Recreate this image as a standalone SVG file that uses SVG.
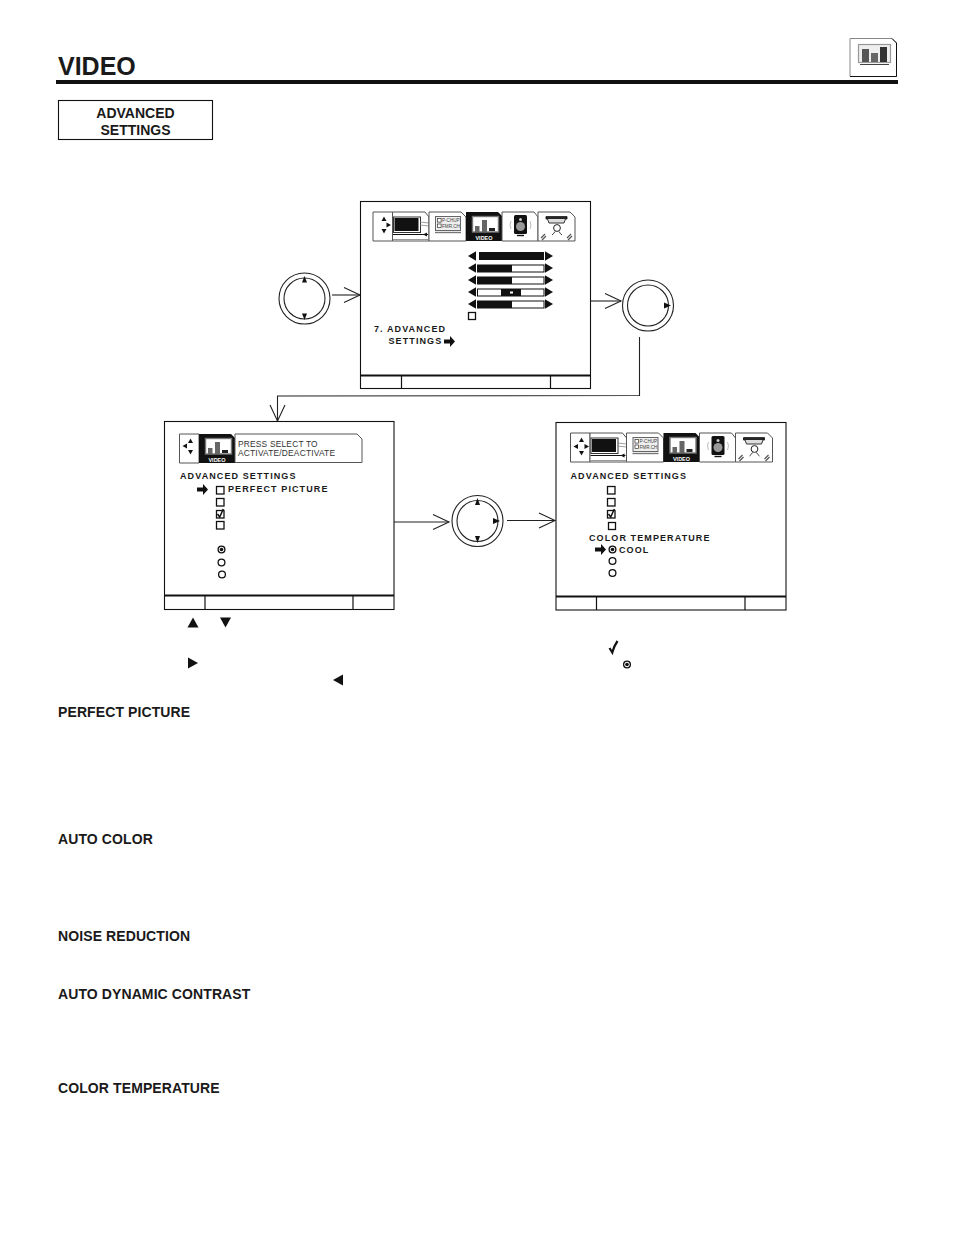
<svg xmlns="http://www.w3.org/2000/svg" width="954" height="1235" viewBox="0 0 954 1235">
<style>
text{font-family:"Liberation Sans",Arial,sans-serif;fill:#1a1a1a}
.h{font-weight:700;font-size:14px;letter-spacing:.1px}
.m{font-weight:700;font-size:9px;letter-spacing:1.1px}
.p{font-size:8.4px;letter-spacing:.2px;fill:#333}
.v{font-weight:700;font-size:5.500px;fill:#fff;text-anchor:middle}
.t{font-size:4.600px;fill:#444}
.box{fill:#fff;stroke:#111;stroke-width:1.100}
.div{fill:none;stroke:#111;stroke-width:1.200}
.bar{stroke:#111;stroke-width:1.800;fill:none}
.tab{fill:#fff;stroke:#555;stroke-width:1}
.cb{fill:#fff;stroke:#111;stroke-width:1.300}
.rd{fill:#fff;stroke:#111;stroke-width:1.300}
.k{fill:#111}
.con{fill:none;stroke:#222;stroke-width:1.100}
.ring{fill:none;stroke:#222;stroke-width:1.100}
</style>
<defs>
<marker id="open" markerUnits="userSpaceOnUse" markerWidth="20" markerHeight="20" refX="17" refY="9" orient="auto"><path d="M1,1.500 L17,9 L1,16.500" fill="none" stroke="#222" stroke-width="1.100"/></marker>
<path id="fat" d="M0,-2 H6 V-5.500 L11,0 L6,5.500 V2 H0Z" class="k"/>
<g id="arrowBox"><path d="M0,0H19.500V29H0Z" class="tab"/></g>
<g id="tv"><path d="M19.500,29V0H52L56,5V29Z" class="tab"/><rect x="20.500" y="5" width="27" height="15.500" fill="#fff" stroke="#333"/><rect x="21.500" y="6" width="24" height="13" class="k"/><path d="M47,10L56,11M47,13L56,14" stroke="#888" stroke-width=".8"/><path d="M20,22.500H55" stroke="#111"/><path d="M20,27.500H56" stroke="#999"/><path d="M54,20.500V24.500L50,22.500Z" class="k"/></g>
<g id="pip"><path d="M56,29V0H88L93,5V29Z" class="tab"/><rect x="62.500" y="4.500" width="25" height="14" fill="#eee" stroke="#666"/><rect x="64.500" y="6.500" width="3.600" height="3.600" fill="#fff" stroke="#333" stroke-width=".7"/><rect x="64.500" y="12" width="3.600" height="3.600" fill="#fff" stroke="#333" stroke-width=".7"/><text class="t" x="69" y="10.300">P-CHUP</text><text class="t" x="69" y="16">FMR.CH</text><path d="M62,20.500H88" stroke="#777" stroke-width="1.400"/></g>
<g id="video"><rect x="93" y="0" width="36" height="29" class="k"/><path d="M125,0L129,4V0Z" fill="#fff"/><rect x="99.500" y="4.500" width="26" height="15.500" fill="#fff" stroke="#777" stroke-width="1.400"/><rect x="102" y="14" width="4.500" height="6" fill="#666"/><rect x="109" y="8" width="5" height="12" fill="#666"/><rect x="116" y="16" width="6" height="3" fill="#222"/><text class="v" x="111" y="27.500">VIDEO</text></g>
<g id="speaker"><path d="M129,29V0H161L165,5V29Z" class="tab"/><rect x="141" y="3" width="13" height="19" rx="1.500" class="k"/><circle cx="147.500" cy="14.500" r="4.500" fill="#999"/><circle cx="147.500" cy="7.500" r="1.500" fill="#ccc"/><path d="M144,23.500H151" stroke="#111" stroke-width="1.400"/><path d="M138,9Q136,13 138,17M157,9Q159,13 157,17" fill="none" stroke="#bbb"/></g>
<g id="person"><path d="M165,29V0H197L202,5V29Z" class="tab"/><path d="M173,4.500H194V7H192.500L191,11H176L174.500,7H173Z" fill="#ddd" stroke="#333"/><path d="M173,6H194" stroke="#111" stroke-width="1.800"/><circle cx="184" cy="16" r="3.400" fill="#fff" stroke="#222"/><path d="M179,23Q181,21.500 182,19.500M189,23Q187,21.500 186,19.500" fill="none" stroke="#222" stroke-width=".9"/><path d="M168,26L172,22M169,28L173,24M195,28L199,24M194,26L198,22" stroke="#555" stroke-width="1.200"/></g>
<path id="up" d="M0,-2.500L2.500,2H-2.500Z" class="k"/>
<path id="dn" d="M0,2.500L2.500,-2H-2.500Z" class="k"/>
<path id="lt" d="M-2.500,0L2,-2.500V2.500Z" class="k"/>
<path id="rt" d="M2.500,0L-2,-2.500V2.500Z" class="k"/>
<path id="arL" d="M-4,0L4,-4.800V4.800Z" class="k"/>
<path id="arR" d="M4,0L-4,-4.800V4.800Z" class="k"/>
<g id="check"><rect x="0" y="0" width="7.500" height="7.500" class="cb"/><path d="M1,3.500L3.200,6.500L6.800,-1.500" fill="none" stroke="#111" stroke-width="1.500"/></g>
<g id="rdOn"><circle r="3.400" class="rd"/><circle r="1.800" class="k"/></g>
</defs>

<g id="header">
<text x="58" y="75" style="font-size:25px;font-weight:700">VIDEO</text>
<rect x="56" y="80" width="842" height="4" class="k"/>
</g>
<g id="page-icon">
<path d="M850,38.500H892L896.500,43V76.500H850Z" fill="#fff" stroke="#888"/>
<path d="M892,38.500L896.500,43V76.500H850" fill="none" stroke="#111"/>
<rect x="858.500" y="44.500" width="32" height="18" fill="#eee" stroke="#999" stroke-width="1.200"/>
<rect x="862" y="49" width="7" height="13" fill="#555"/><rect x="871" y="53" width="7" height="9" fill="#666"/><rect x="880" y="47" width="7" height="15" fill="#333"/>
<path d="M860,64.500H889" stroke="#444"/>
</g>
<g id="title-box">
<rect x="58.500" y="100.500" width="154" height="39" class="box"/>
<text x="135.500" y="118" style="font-weight:700;font-size:14px" text-anchor="middle">ADVANCED</text>
<text x="135.500" y="135" style="font-weight:700;font-size:14px" text-anchor="middle">SETTINGS</text>
</g>

<g id="connectors">
<path class="con" marker-end="url(#open)" d="M332,295H360"/>
<path class="con" marker-end="url(#open)" d="M591,301H621"/>
<path class="con" marker-end="url(#open)" d="M639.500,337V395.500L277.500,396V421"/>
<path class="con" marker-end="url(#open)" d="M394,522H449"/>
<path class="con" marker-end="url(#open)" d="M507,520.500H555"/>
</g>

<g id="dial-left">
<circle cx="304.500" cy="298.500" r="25.500" class="ring"/><circle cx="304.500" cy="298.500" r="20.500" class="ring"/>
<path d="M304.500,276L302,282.500H307Z" class="k"/><path d="M304.500,320L302,313.500H307Z" class="k"/>
</g>
<g id="dial-right">
<circle cx="648" cy="305.500" r="25.500" class="ring"/><circle cx="648" cy="305.500" r="20.500" class="ring"/>
<path d="M671,305.500L664,302.500V308.500Z" class="k"/>
</g>
<g id="dial-middle">
<circle cx="477.500" cy="521" r="25.500" class="ring"/><circle cx="477.500" cy="521" r="20.500" class="ring"/>
<path d="M477.500,498L475,505H480Z" class="k"/><path d="M477.500,543L475,536H480Z" class="k"/><path d="M500,521L493,518V524Z" class="k"/>
</g>

<g id="screen-main">
<rect x="360.500" y="201.500" width="230" height="187" class="box"/>
<path class="bar" d="M360.500,375.500H590.500"/><path class="div" d="M401.500,375.500V388.500M550.500,375.500V388.500"/>
<g transform="translate(373,212)">
<use href="#arrowBox"/><use href="#up" x="11" y="7"/><use href="#dn" x="11" y="19"/><use href="#rt" x="15.500" y="13"/>
<use href="#tv"/><use href="#pip"/><use href="#video"/><use href="#speaker"/><use href="#person"/>
</g>
<g>
<use href="#arL" x="472" y="256"/><use href="#arR" x="549" y="256"/><rect x="479" y="252" width="65" height="8" class="k"/>
<use href="#arL" x="472" y="268"/><use href="#arR" x="549" y="268"/><rect x="477.500" y="265" width="66.500" height="7" fill="#fff" stroke="#111"/><rect x="477.500" y="265" width="34.500" height="7" class="k"/>
<use href="#arL" x="472" y="280"/><use href="#arR" x="549" y="280"/><rect x="477.500" y="277" width="66.500" height="7" fill="#fff" stroke="#111"/><rect x="477.500" y="277" width="34.500" height="7" class="k"/>
<use href="#arL" x="472" y="292"/><use href="#arR" x="549" y="292"/><rect x="477.500" y="289" width="66.500" height="7" fill="#fff" stroke="#111"/><rect x="501" y="289" width="20" height="7" class="k"/><rect x="510" y="291.500" width="3" height="2" fill="#fff"/>
<use href="#arL" x="472" y="304"/><use href="#arR" x="549" y="304"/><rect x="477.500" y="301" width="66.500" height="7" fill="#fff" stroke="#111"/><rect x="477.500" y="301" width="34.500" height="7" class="k"/>
<rect x="468.500" y="312.500" width="7" height="7" class="cb"/>
</g>
<text class="m" x="374" y="332">7. ADVANCED</text>
<text class="m" x="388.500" y="344">SETTINGS</text>
<use href="#fat" x="444" y="341.500"/>
</g>

<g id="screen-perfect-picture">
<rect x="164.500" y="421.500" width="229.500" height="188" class="box"/>
<path class="bar" d="M164.500,595.500H394"/><path class="div" d="M205,595.500V609.500M353,595.500V609.500"/>
<use href="#arrowBox" x="179.500" y="434"/><use href="#up" x="190.500" y="441"/><use href="#dn" x="190.500" y="452"/><use href="#lt" x="185" y="446"/>
<use href="#video" x="106" y="434"/>
<path d="M235,434H357L362,439V462.500H235Z" class="tab"/>
<text class="p" x="238" y="447">PRESS SELECT TO</text>
<text class="p" x="238" y="456">ACTIVATE/DEACTIVATE</text>
<text class="m" x="180" y="479">ADVANCED SETTINGS</text>
<use href="#fat" x="197" y="489.500"/>
<rect x="216.500" y="486.500" width="7.500" height="7.500" class="cb"/>
<text class="m" x="228" y="492">PERFECT PICTURE</text>
<rect x="216.500" y="498.500" width="7.500" height="7.500" class="cb"/>
<use href="#check" x="216.500" y="510.500"/>
<rect x="216.500" y="521.500" width="7.500" height="7.500" class="cb"/>
<use href="#rdOn" x="221.500" y="549.500"/>
<circle cx="221.500" cy="562.500" r="3.400" class="rd"/>
<circle cx="222" cy="574.500" r="3.400" class="rd"/>
</g>

<g id="screen-color-temperature">
<rect x="556" y="422.500" width="230" height="187.500" class="box"/>
<path class="bar" d="M556,596.500H786"/><path class="div" d="M596.500,596.500V610M745,596.500V610"/>
<g transform="translate(570.500,433)">
<use href="#arrowBox"/><use href="#up" x="11" y="7"/><use href="#dn" x="11" y="20"/><use href="#lt" x="5.500" y="13.500"/><use href="#rt" x="16" y="13.500"/>
<use href="#tv"/><use href="#pip"/><use href="#video"/><use href="#speaker"/><use href="#person"/>
</g>
<text class="m" x="570.500" y="479">ADVANCED SETTINGS</text>
<rect x="607.500" y="486.500" width="7.500" height="7.500" class="cb"/>
<rect x="607.500" y="498.500" width="7.500" height="7.500" class="cb"/>
<use href="#check" x="607.500" y="510.500"/>
<rect x="608.500" y="522.500" width="7" height="7" class="cb"/>
<text class="m" x="589" y="541">COLOR TEMPERATURE</text>
<use href="#fat" x="595" y="549.500"/>
<use href="#rdOn" x="612.500" y="549.500"/>
<text class="m" x="619" y="553">COOL</text>
<circle cx="612.500" cy="561" r="3.400" class="rd"/>
<circle cx="612.500" cy="573" r="3.400" class="rd"/>
</g>

<g id="legend-marks">
<path d="M193,617.500L198.500,627.500H187.500Z" class="k"/>
<path d="M225.500,627.500L220,617.500H231Z" class="k"/>
<path d="M198,663L188,657.500V668.500Z" class="k"/>
<path d="M333,680L343,674.500V685.500Z" class="k"/>
<path d="M609.500,648L612.300,652.500Q614,646 617.500,641" fill="none" stroke="#111" stroke-width="2.200"/>
<use href="#rdOn" x="627" y="664.500"/>
</g>

<g id="section-headings">
<text class="h" x="58" y="717">PERFECT PICTURE</text>
<text class="h" x="58" y="844">AUTO COLOR</text>
<text class="h" x="58" y="941">NOISE REDUCTION</text>
<text class="h" x="58" y="999">AUTO DYNAMIC CONTRAST</text>
<text class="h" x="58" y="1093">COLOR TEMPERATURE</text>
</g>
</svg>
